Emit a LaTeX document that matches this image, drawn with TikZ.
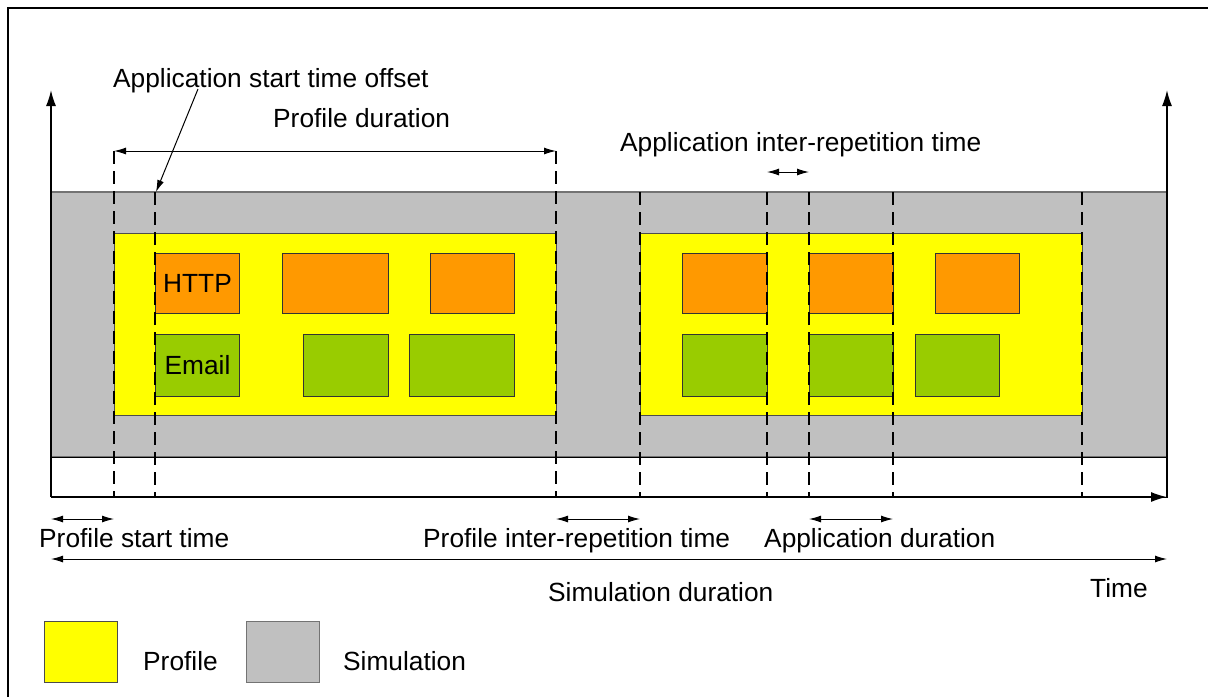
\documentclass[tikz,border=0pt]{standalone}
\usepackage{fontspec}
\setmainfont{Liberation Sans}
\usepackage{tikz}
\usetikzlibrary{arrows.meta}

\definecolor{httporange}{HTML}{FF9900}
\definecolor{emailgreen}{HTML}{99CC00}
\definecolor{simgray}{HTML}{C0C0C0}
\definecolor{profyellow}{HTML}{FFFF00}

\begin{document}
\begin{tikzpicture}[x=1pt, y=-1pt,
	label/.style={inner sep=0pt, anchor=base west, font=\fontsize{26.3}{31}\selectfont},
	band/.style={draw=black!55, fill=simgray, line width=1.5pt},
	profile/.style={draw=black!70, fill=profyellow, line width=1pt},
	appbox/.style={draw=black!80, line width=1pt, inner sep=0pt, anchor=north west, font=\fontsize{26.3}{31}\selectfont},
	marker/.style={dash pattern=on 13pt off 7pt, line width=1.5pt},
	span/.style={{Latex[length=12pt,width=7pt]}-{Latex[length=12pt,width=7pt]}, line width=1pt},
	axis/.style={-{Latex[length=16pt,width=10pt]}, line width=1.5pt}]
	\useasboundingbox (0,0) rectangle (1208,697);

	% frame
	\draw[line width=2pt] (8,697) -- (8,8) -- (1208,8);

	% simulation band and strip below it
	\draw[band] (51,192) rectangle (1167,457);
	\draw[line width=1pt] (51,457) rectangle (1167,497);

	% profiles
	\draw[profile] (114,233) rectangle (556,415);
	\draw[profile] (640,233) rectangle (1082,415);

	% applications
	\node[appbox, fill=httporange, minimum width=84pt, minimum height=60pt] (http1) at (155,253) {HTTP};
	\node[appbox, fill=httporange, minimum width=106pt, minimum height=60pt] (http2) at (282,253) {};
	\node[appbox, fill=httporange, minimum width=84pt, minimum height=60pt] (http3) at (430,253) {};
	\node[appbox, fill=httporange, minimum width=85pt, minimum height=60pt] (http4) at (682,253) {};
	\node[appbox, fill=httporange, minimum width=84pt, minimum height=60pt] (http5) at (809,253) {};
	\node[appbox, fill=httporange, minimum width=84pt, minimum height=60pt] (http6) at (935,253) {};

	\node[appbox, fill=emailgreen, minimum width=84pt, minimum height=62pt] (email1) at (155,334) {Email};
	\node[appbox, fill=emailgreen, minimum width=85pt, minimum height=62pt] (email2) at (303,334) {};
	\node[appbox, fill=emailgreen, minimum width=105pt, minimum height=62pt] (email3) at (409,334) {};
	\node[appbox, fill=emailgreen, minimum width=85pt, minimum height=62pt] (email4) at (682,334) {};
	\node[appbox, fill=emailgreen, minimum width=84pt, minimum height=62pt] (email5) at (809,334) {};
	\node[appbox, fill=emailgreen, minimum width=84pt, minimum height=62pt] (email6) at (915,334) {};

	% time markers
	\foreach \x in {114,556} {
		\draw[marker] (\x,151) -- (\x,497);
	}
	\foreach \x in {155,640,767,809,893,1082} {
		\draw[marker] (\x,192) -- (\x,497);
	}

	% axes
	\draw[axis] (51,497) -- (51,90);
	\draw[axis] (1167,497) -- (1167,90);
	\draw[axis] (51,497) -- (1167,497);

	% spans
	\coordinate (pdA) at (114,151);
	\coordinate (pdB) at (556,151);
	\draw[span] (pdA) -- (pdB);
	\coordinate (airA) at (767,172);
	\coordinate (airB) at (809,172);
	\draw[span] (airA) -- (airB);
	\coordinate (pstA) at (51,519);
	\coordinate (pstB) at (114,519);
	\draw[span] (pstA) -- (pstB);
	\coordinate (pirA) at (556,519);
	\coordinate (pirB) at (640,519);
	\draw[span] (pirA) -- (pirB);
	\coordinate (adA) at (809,519);
	\coordinate (adB) at (893,519);
	\draw[span] (adA) -- (adB);
	\coordinate (sdA) at (51,559);
	\coordinate (sdB) at (1167,559);
	\draw[span] (sdA) -- (sdB);

	% labels
	\node[label] (offsetlabel) at (113,87) {Application start time offset};
	\node[label] at (273,127) {Profile duration};
	\node[label] at (620,151) {Application inter-repetition time};
	\node[label] at (39,547) {Profile start time};
	\node[label] at (423,547) {Profile inter-repetition time};
	\node[label] at (764,547) {Application duration};
	\node[label] at (548,601) {Simulation duration};
	\node[label] at (1090,597) {Time};

	\coordinate (offsetfrom) at (198,89);
	\coordinate (offsetto) at (156,192);
	\draw[-{Latex[length=12pt,width=7pt]}, line width=1pt] (offsetfrom) -- (offsetto);

	% legend
	\draw[profile] (44,621) rectangle (117,682);
	\node[label] at (143,670) {Profile};
	\draw[band, line width=1pt] (246,621) rectangle (319,682);
	\node[label] at (343,670) {Simulation};
\end{tikzpicture}
\end{document}
